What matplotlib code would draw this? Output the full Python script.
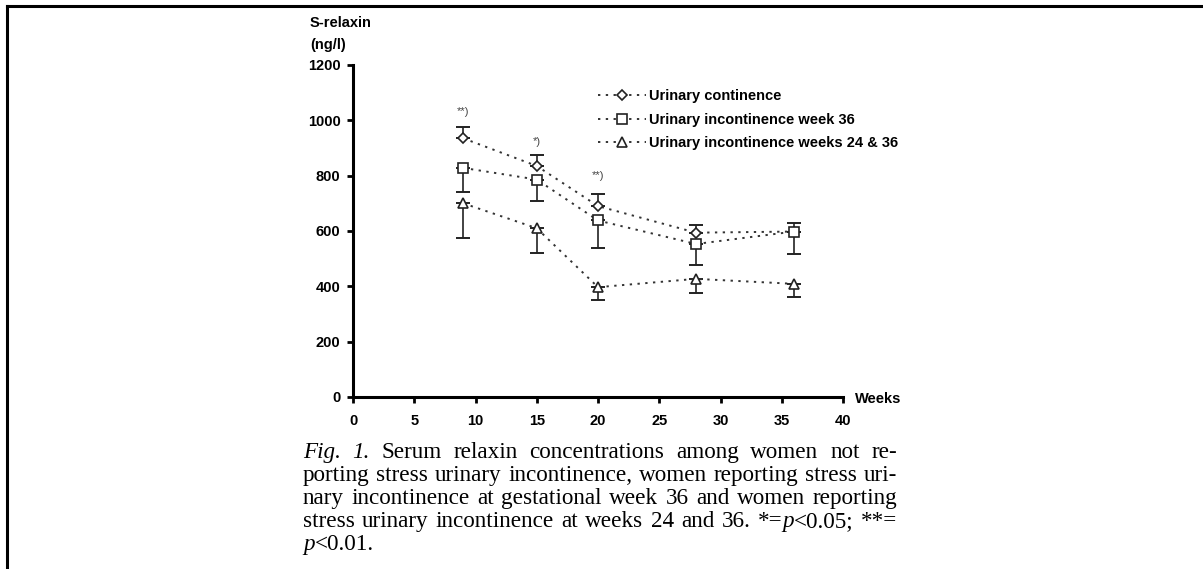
import matplotlib
matplotlib.use("Agg")
import matplotlib.pyplot as plt
from matplotlib.lines import Line2D

# ---- data -------------------------------------------------------------
weeks = [9, 15, 20, 28, 36]

continence = [935, 835, 690, 594, 598]
continence_err = [40, 40, 42, 28, 32]          # upper error only

incont_w36 = [828, 786, 638, 553, 598]
incont_w36_err = [86, 78, 100, 76, 80]          # lower error only

incont_w24_36 = [700, 610, 397, 427, 409]
incont_w24_36_err = [126, 88, 46, 52, 48]       # lower error only

series_labels = ["Urinary continence",
                 "Urinary incontinence week 36",
                 "Urinary incontinence weeks 24 & 36"]

sig_weeks = [9, 15, 20]
sig_marks = ["**)", "*)", "**)"]
sig_y = [1030, 922, 798]

x_ticks = [0, 5, 10, 15, 20, 25, 30, 35, 40]
y_ticks = [0, 200, 400, 600, 800, 1000, 1200]

# ---- figure -----------------------------------------------------------
W, H = 1203, 569
fig = plt.figure(figsize=(W / 100, H / 100), dpi=100)
fig.patch.set_facecolor("white")

# page frame (top and left rules)
fig.add_artist(Line2D([7 / W, 1.0], [1 - 6 / H, 1 - 6 / H], color="black", lw=2.2,
                      transform=fig.transFigure, solid_capstyle="projecting"))
fig.add_artist(Line2D([7 / W, 7 / W], [0.0, 1 - 6 / H], color="black", lw=2.2,
                      transform=fig.transFigure, solid_capstyle="projecting"))

SANS = "Liberation Sans"
x0, x1 = 353, 843
y_top, y_bot = 65, 397
ax = fig.add_axes([x0 / W, 1 - y_bot / H, (x1 - x0) / W, (y_bot - y_top) / H])
ax.set_xlim(0, 40)
ax.set_ylim(0, 1200)
ax.spines["top"].set_visible(False)
ax.spines["right"].set_visible(False)
for s in ("left", "bottom"):
    ax.spines[s].set_linewidth(2.2)
ax.set_xticks(x_ticks)
ax.set_yticks(y_ticks)
ax.tick_params(direction="out", length=4, width=2, labelsize=10.5, pad=5)
ax.tick_params(axis="x", pad=8)
for lab in ax.get_xticklabels() + ax.get_yticklabels():
    lab.set_fontweight("bold")
    lab.set_fontfamily(SANS)
ax.patch.set_alpha(0)

line_kw = dict(color="#333333", ls=(0, (1.2, 2.8)), lw=1.4, mfc="white",
               mec="#222222", mew=1.2, zorder=3)
err_kw = dict(fmt="none", ecolor="#222222", elinewidth=1.2, capsize=5, capthick=1.4,
              zorder=2)

h1, = ax.plot(weeks, continence, marker="D", ms=5.5, label=series_labels[0], **line_kw)
ax.errorbar(weeks, continence, yerr=[[0] * len(weeks), continence_err], **err_kw)

h2, = ax.plot(weeks, incont_w36, marker="s", ms=7.5, label=series_labels[1], **line_kw)
ax.errorbar(weeks, incont_w36, yerr=[incont_w36_err, [0] * len(weeks)], **err_kw)

h3, = ax.plot(weeks, incont_w24_36, marker="^", ms=7, label=series_labels[2], **line_kw)
ax.errorbar(weeks, incont_w24_36, yerr=[incont_w24_36_err, [0] * len(weeks)], **err_kw)

for wk, m, yv in zip(sig_weeks, sig_marks, sig_y):
    ax.text(wk, yv, m, ha="center", va="center", fontsize=8, color="#444444",
            family=SANS)

leg = ax.legend(handles=[h1, h2, h3], loc="upper left",
                bbox_to_anchor=((598 - x0) / (x1 - x0), 1 - (89 - y_top) / (y_bot - y_top)),
                frameon=False, numpoints=1, handlelength=3.3, handletextpad=0.2,
                labelspacing=0.66, borderpad=0, borderaxespad=0,
                prop={"family": SANS, "weight": "bold", "size": 10.5})
leg.set_in_layout(False)

# axis titles
fig.text(310 / W, 1 - 23 / H, "S-relaxin", ha="left", va="center", fontsize=10.5,
         fontweight="bold", family=SANS)
fig.text(310 / W, 1 - 45 / H, "(ng/l)", ha="left", va="center", fontsize=10.5,
         fontweight="bold", family=SANS)
fig.text(855 / W, 1 - 399 / H, "Weeks", ha="left", va="center", fontsize=10.5,
         fontweight="bold", family=SANS)

# ---- caption (justified) ---------------------------------------------
N, I = "normal", "italic"
caption_lines = [
    [[("Fig.", I)], [("1.", I)], [("Serum", N)], [("relaxin", N)], [("concentrations", N)],
     [("among", N)], [("women", N)], [("not", N)], [("re-", N)]],
    [[("porting", N)], [("stress", N)], [("urinary", N)], [("incontinence,", N)],
     [("women", N)], [("reporting", N)], [("stress", N)], [("uri-", N)]],
    [[("nary", N)], [("incontinence", N)], [("at", N)], [("gestational", N)], [("week", N)],
     [("36", N)], [("and", N)], [("women", N)], [("reporting", N)]],
    [[("stress", N)], [("urinary", N)], [("incontinence", N)], [("at", N)], [("weeks", N)],
     [("24", N)], [("and", N)], [("36.", N)], [("*=", N), ("p", I), ("<0.05;", N)],
     [("**=", N)]],
    [[("p", I), ("<0.01.", N)]],
]
cap_left, cap_right = 303, 897
cap_base = [458, 481, 504, 527, 550]
SERIF = "Liberation Serif"

renderer = fig.canvas.get_renderer()


def seg_width(txt, style, size):
    t = fig.text(0, 0, txt, fontsize=size, family=SERIF, style=style)
    w = t.get_window_extent(renderer).width
    t.remove()
    return w


# pick the type size at which the tightest line fills the column with plain spaces
probe = 10.0
line2 = " ".join(w[0][0] for w in caption_lines[1])
cap_size = probe * (cap_right - cap_left) / seg_width(line2, N, probe) * 0.985

for li, words in enumerate(caption_lines):
    widths = [[seg_width(t, s, cap_size) for t, s in w] for w in words]
    totals = [sum(w) for w in widths]
    if li < len(caption_lines) - 1 and len(words) > 1:
        gap = (cap_right - cap_left - sum(totals)) / (len(words) - 1)
    else:
        gap = seg_width("a b", N, cap_size) - seg_width("ab", N, cap_size)
    x = cap_left
    yb = 1 - cap_base[li] / H
    for w, ws in zip(words, widths):
        xx = x
        for (t, s), sw in zip(w, ws):
            fig.text(xx / W, yb, t, fontsize=cap_size, family=SERIF,
                     style=s, ha="left", va="baseline")
            xx += sw
        x += sum(ws) + gap

fig.savefig("out.png", dpi=100, facecolor="white")
